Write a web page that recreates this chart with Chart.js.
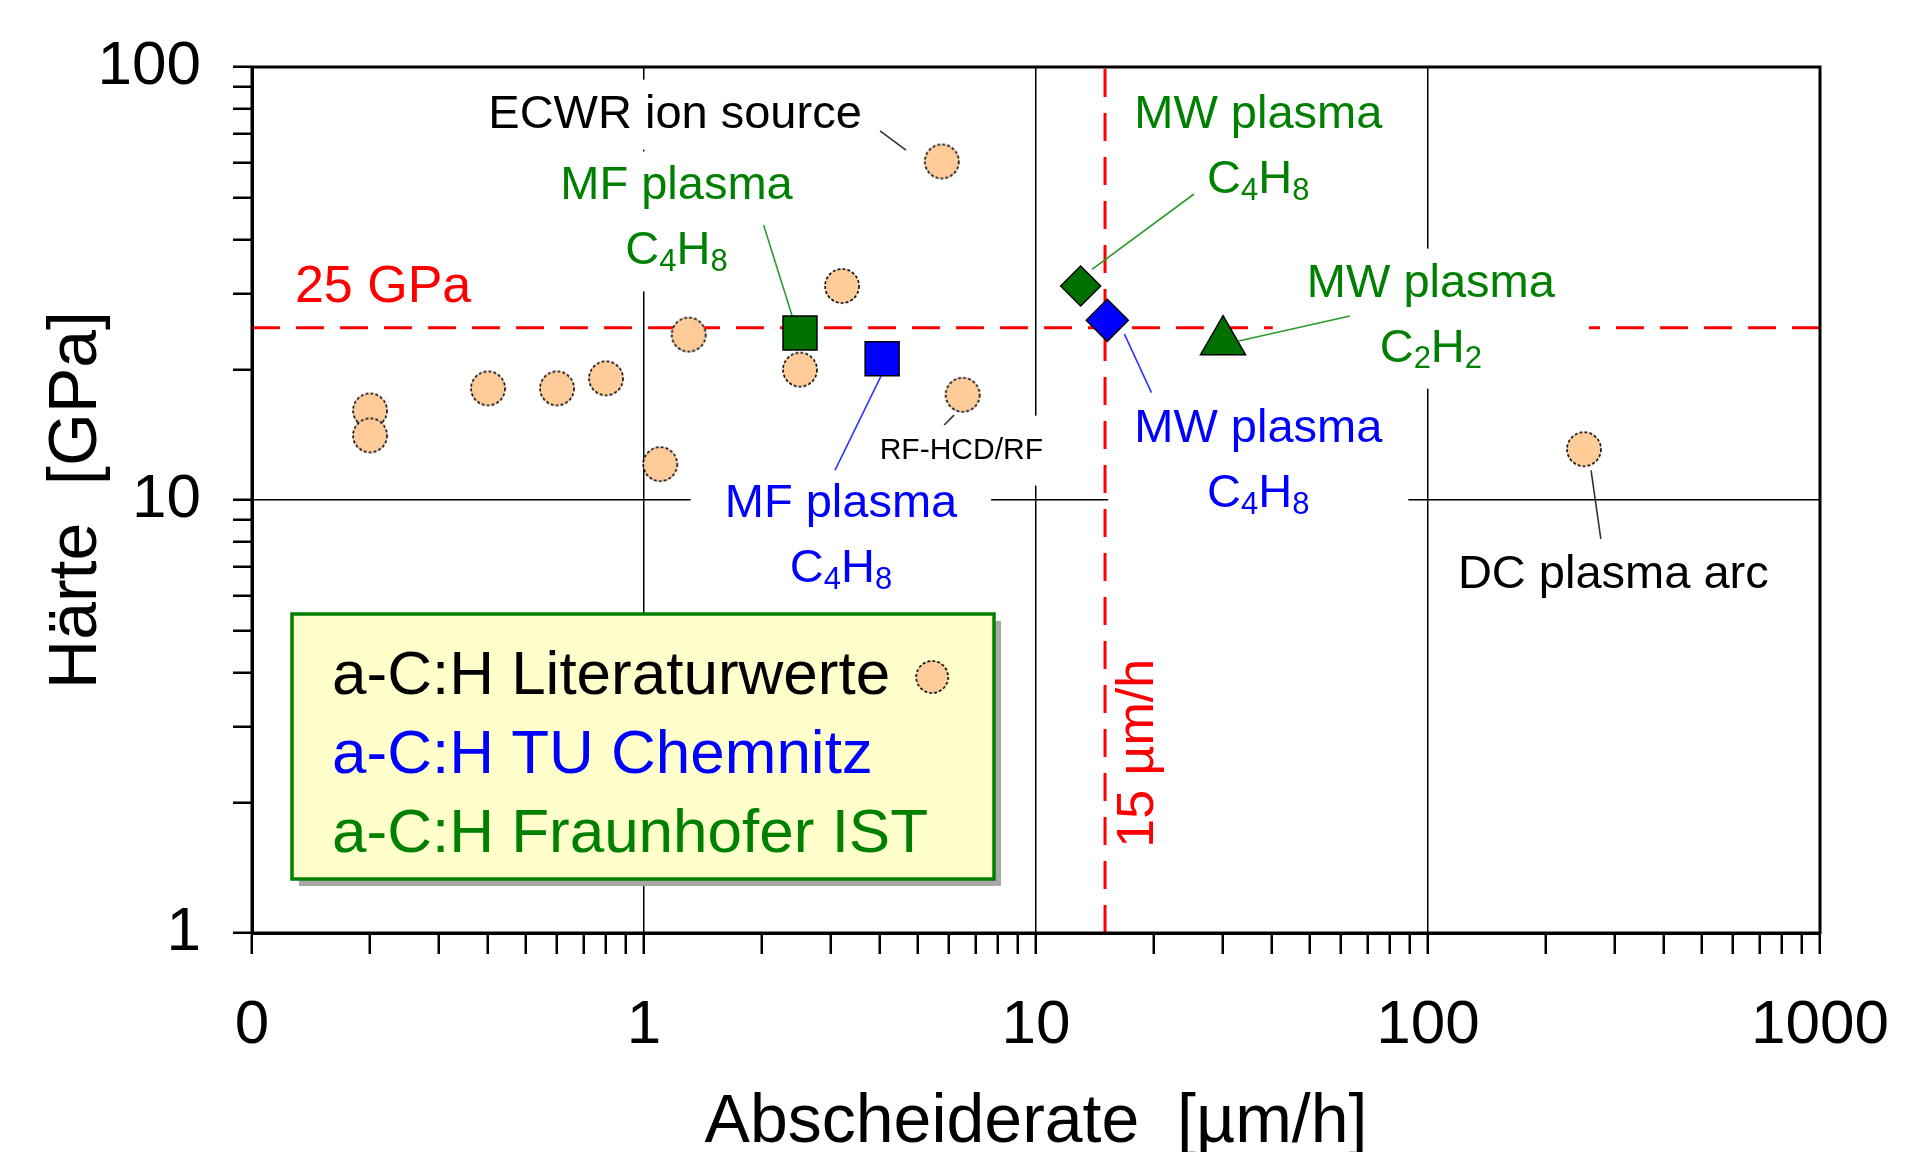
<!DOCTYPE html>
<html>
<head>
<meta charset="utf-8">
<script src="https://cdn.jsdelivr.net/npm/chart.js@4/dist/chart.umd.min.js"></script>
<style>
  html, body { margin: 0; padding: 0; background: #fff; }
  #wrap { width: 1908px; height: 1152px; }
</style>
</head>
<body>
<div id="wrap"><canvas id="hardnessChart"></canvas></div>
<script>
// Abscheiderate [µm/h] vs. Härte [GPa]
var litRate = [0.2, 0.2, 0.4, 0.6, 0.8, 1.1, 1.3, 2.5, 3.2, 5.75, 6.5, 250];
var litHard = [16.1, 14.1, 18.1, 18.1, 19.1, 12.1, 24.1, 20, 31.2, 60.5, 17.5, 13.1];
var tucRate = [4.05, 15.2];
var tucHard = [21.2, 26];
var istRate = [2.5, 13, 30];
var istHard = [24.3, 31.2, 23.2];
var limitRate = 15;
var limitHard = 25;
var xTickValues = [0.1, 1, 10, 100, 1000];
var xTickLabels = ['0', '1', '10', '100', '1000'];
var yTickValues = [1, 10, 100];
var yTickLabels = ['1', '10', '100'];

var FONT = 'Arial, "Liberation Sans", sans-serif';
var GREEN = '#008000';
var GREEN_FILL = '#007000';
var BLUE = '#0000ff';
var RED = '#ff0000';
var PEACH = '#ffcc99';

// callout texts, placed in data units (centre of the first line)
var notes = [
    { lines: ['ECWR ion source'], x: 1.2, y: 77.6, color: '#000', size: 47, lead: [[4.0, 71.2], [4.66, 64.3]], leadColor: '#333' },
    { lines: ['MF plasma', 'C_4H_8'], x: 1.21, y: 53.0, color: GREEN, size: 47, lead: [[2.02, 43.1], [2.4, 26.2]], leadColor: '#2a9a2a' },
    { lines: ['MW plasma', 'C_4H_8'], x: 36.9, y: 77.6, color: GREEN, size: 47, box: false, lead: [[25.3, 50.9], [13.9, 34.1]], leadColor: '#2a9a2a' },
    { lines: ['MW plasma', 'C_2H_2'], x: 101.7, y: 31.6, color: GREEN, size: 47, lead: [[63.2, 26.6], [32.9, 23.3]], leadColor: '#2a9a2a' },
    { lines: ['MW plasma', 'C_4H_8'], x: 36.9, y: 14.6, color: BLUE, size: 47, padX: 26, lead: [[16.8, 24.2], [19.7, 17.7]], leadColor: '#3333ff' },
    { lines: ['MF plasma', 'C_4H_8'], x: 3.18, y: 9.8, color: BLUE, size: 47, lead: [[4.02, 19.3], [3.07, 11.7]], leadColor: '#3333ff' },
    { lines: ['RF-HCD/RF'], x: 6.45, y: 13.0, color: '#000', size: 30, padX: 10, lead: [[6.18, 15.7], [5.83, 14.9]], leadColor: '#333' },
    { lines: ['DC plasma arc'], x: 297, y: 6.7, color: '#000', size: 47, padX: 14, lead: [[260.6, 11.7], [276, 8.13]], leadColor: '#333' }
];
var limitNotes = [
    { text: '25 GPa', x: 0.216, y: 30.9, rot: 0 },
    { text: '15 µm/h', x: 18.3, y: 2.6, rot: -Math.PI / 2 }
];

function circleImage(r) {
    var c = document.createElement('canvas');
    c.width = c.height = 2 * r + 4;
    var g = c.getContext('2d');
    g.beginPath();
    g.arc(r + 2, r + 2, r, 0, 2 * Math.PI);
    g.fillStyle = PEACH;
    g.fill();
    g.setLineDash([3, 2]);
    g.lineWidth = 1.6;
    g.strokeStyle = '#000';
    g.stroke();
    return c;
}
var dot = circleImage(17);
var legendDot = circleImage(16);

function parts(str) {
    var out = [];
    for (var i = 0; i < str.length; i++) {
        if (str[i] === '_') { out.push({ t: str[i + 1], sub: true }); i++; }
        else if (out.length && !out[out.length - 1].sub) out[out.length - 1].t += str[i];
        else out.push({ t: str[i], sub: false });
    }
    return out;
}
function subSize(size) { return Math.round(size * 0.66); }
function richWidth(ctx, str, size) {
    return parts(str).reduce(function (w, p) {
        ctx.font = (p.sub ? subSize(size) : size) + 'px ' + FONT;
        return w + ctx.measureText(p.t).width;
    }, 0);
}
function drawRich(ctx, str, cx, cy, size, color) {
    var x = cx - richWidth(ctx, str, size) / 2;
    ctx.fillStyle = color;
    ctx.textBaseline = 'middle';
    ctx.textAlign = 'left';
    parts(str).forEach(function (p) {
        ctx.font = (p.sub ? subSize(size) : size) + 'px ' + FONT;
        ctx.fillText(p.t, x, p.sub ? cy + size * 0.24 : cy);
        x += ctx.measureText(p.t).width;
    });
}

var LINE_GAP = 65;

var notesPlugin = {
    id: 'notes',
    beforeDatasetsDraw: function (chart) {
        var ctx = chart.ctx, xs = chart.scales.x, ys = chart.scales.y, a = chart.chartArea;
        ctx.save();
        // 25 GPa and 15 µm/h limits
        var ly = ys.getPixelForValue(limitHard), lx = xs.getPixelForValue(limitRate);
        ctx.strokeStyle = RED;
        ctx.lineWidth = 3;
        ctx.setLineDash([28, 16]);
        ctx.beginPath();
        ctx.moveTo(a.left, ly); ctx.lineTo(a.right, ly);
        ctx.moveTo(lx, a.bottom); ctx.lineTo(lx, a.top);
        ctx.stroke();
        ctx.setLineDash([]);

        // white boxes behind the callouts
        notes.forEach(function (n) {
            if (n.box === false) return;
            var cx = xs.getPixelForValue(n.x), cy = ys.getPixelForValue(n.y);
            var w = Math.max.apply(null, n.lines.map(function (s) { return richWidth(ctx, s, n.size); }));
            var pad = n.padX === undefined ? 34 : n.padX;
            var top = cy - 35, bottom = cy + (n.lines.length - 1) * LINE_GAP + (n.lines.length > 1 ? 40 : 35);
            ctx.fillStyle = '#fff';
            ctx.fillRect(cx - w / 2 - pad, top, w + 2 * pad, bottom - top);
        });

        // leader lines and texts
        notes.forEach(function (n) {
            ctx.strokeStyle = n.leadColor;
            ctx.lineWidth = 1.6;
            ctx.beginPath();
            ctx.moveTo(xs.getPixelForValue(n.lead[0][0]), ys.getPixelForValue(n.lead[0][1]));
            ctx.lineTo(xs.getPixelForValue(n.lead[1][0]), ys.getPixelForValue(n.lead[1][1]));
            ctx.stroke();
            var cx = xs.getPixelForValue(n.x), cy = ys.getPixelForValue(n.y);
            n.lines.forEach(function (s, i) {
                drawRich(ctx, s, cx, cy + i * LINE_GAP, n.size, n.color);
            });
        });

        limitNotes.forEach(function (n) {
            ctx.save();
            ctx.translate(xs.getPixelForValue(n.x), ys.getPixelForValue(n.y));
            ctx.rotate(n.rot);
            ctx.font = '52px ' + FONT;
            ctx.fillStyle = RED;
            ctx.textAlign = 'center';
            ctx.textBaseline = 'middle';
            ctx.fillText(n.text, 0, 0);
            ctx.restore();
        });
        ctx.restore();
    }
};

var legendPlugin = {
    id: 'legendBox',
    afterDatasetsDraw: function (chart) {
        var ctx = chart.ctx, a = chart.chartArea;
        var w = 702, h = 265, left = a.left + 40, top = a.bottom - 54 - h;
        ctx.save();
        ctx.fillStyle = '#a8a8a8';
        ctx.fillRect(left + 7, top + 7, w, h);
        ctx.fillStyle = '#ffffcc';
        ctx.fillRect(left, top, w, h);
        ctx.lineWidth = 3.5;
        ctx.strokeStyle = GREEN;
        ctx.strokeRect(left, top, w, h);
        ctx.font = '62px ' + FONT;
        ctx.textBaseline = 'middle';
        ctx.textAlign = 'left';
        chart.data.datasets.forEach(function (ds, i) {
            var y = top + 63 + i * 79;
            ctx.fillStyle = ds.legendColor;
            ctx.fillText(ds.label, left + 40, y);
            if (ds.pointStyle === dot) {
                var tw = ctx.measureText(ds.label).width;
                ctx.drawImage(legendDot, left + 40 + tw + 24, y - legendDot.height / 2);
            }
        });
        ctx.restore();
    }
};

var framePlugin = {
    id: 'frame',
    afterDraw: function (chart) {
        var ctx = chart.ctx, a = chart.chartArea;
        ctx.save();
        ctx.lineWidth = 3;
        ctx.strokeStyle = '#000';
        ctx.strokeRect(a.left, a.top, a.right - a.left, a.bottom - a.top);
        ctx.restore();
    }
};

function points(xs, ys) {
    return xs.map(function (x, i) { return { x: x, y: ys[i] }; });
}
function minorTicks(decades) {
    var t = [];
    for (var i = 0; i < decades.length - 1; i++) {
        for (var k = 1; k <= 9; k++) t.push({ value: decades[i] * k });
    }
    t.push({ value: decades[decades.length - 1] });
    return t;
}
function tickLabel(values, labels) {
    return function (value, index, ticks) {
        var i = values.indexOf(ticks[index].value);
        return i >= 0 ? labels[i] : '';
    };
}
function gridColor(values) {
    var inner = values.slice(1, -1);
    return function (c) {
        return c.tick && inner.indexOf(c.tick.value) >= 0 ? '#000' : 'rgba(0,0,0,0)';
    };
}

document.addEventListener('DOMContentLoaded', function () {
    var ctx = document.getElementById('hardnessChart').getContext('2d');
    new Chart(ctx, {
        type: 'scatter',
        data: {
            datasets: [{
                label: 'a-C:H Literaturwerte',
                data: points(litRate, litHard),
                pointStyle: dot,
                pointRadius: 17,
                legendColor: '#000',
                order: 3
            }, {
                label: 'a-C:H TU Chemnitz',
                data: points(tucRate, tucHard),
                pointStyle: ['rect', 'rectRot'],
                pointRadius: [24, 21],
                backgroundColor: BLUE,
                borderColor: '#000',
                borderWidth: 1.5,
                legendColor: BLUE,
                order: 2
            }, {
                label: 'a-C:H Fraunhofer IST',
                data: points(istRate, istHard),
                pointStyle: ['rect', 'rectRot', 'triangle'],
                pointRadius: [24, 20, 26],
                backgroundColor: GREEN_FILL,
                borderColor: '#000',
                borderWidth: 1.5,
                legendColor: GREEN,
                order: 1
            }]
        },
        options: {
            responsive: true,
            maintainAspectRatio: false,
            animation: false,
            layout: { padding: { top: 67, right: 88, left: 0, bottom: 0 } },
            plugins: { legend: { display: false }, tooltip: { enabled: false } },
            scales: {
                x: {
                    type: 'logarithmic',
                    min: 0.1,
                    max: 1000,
                    afterBuildTicks: function (s) { s.ticks = minorTicks(xTickValues); },
                    afterFit: function (s) { s.height = 219; s.paddingLeft = 0; s.paddingRight = 0; },
                    grid: { color: gridColor(xTickValues), lineWidth: 1.5, tickColor: '#000', tickWidth: 2.5, tickLength: 21 },
                    border: { color: '#000', width: 3 },
                    ticks: {
                        autoSkip: false, maxRotation: 0, padding: 35, color: '#000',
                        font: { family: FONT, size: 62 },
                        callback: tickLabel(xTickValues, xTickLabels)
                    },
                    title: {
                        display: true, text: 'Abscheiderate  [µm/h]', color: '#000',
                        font: { family: FONT, size: 68, lineHeight: 0.76 },
                        padding: { top: 0, bottom: 3 }
                    }
                },
                y: {
                    type: 'logarithmic',
                    min: 1,
                    max: 100,
                    afterBuildTicks: function (s) { s.ticks = minorTicks(yTickValues); },
                    afterFit: function (s) { s.width = 252; s.paddingTop = 0; s.paddingBottom = 0; },
                    grid: { color: gridColor(yTickValues), lineWidth: 1.5, tickColor: '#000', tickWidth: 2.5, tickLength: 19 },
                    border: { color: '#000', width: 3 },
                    ticks: {
                        autoSkip: false, padding: 32, color: '#000',
                        font: { family: FONT, size: 62 },
                        callback: tickLabel(yTickValues, yTickLabels)
                    },
                    title: {
                        display: true, text: 'Härte  [GPa]', color: '#000',
                        font: { family: FONT, size: 68, lineHeight: 0.76 },
                        padding: { top: 51, bottom: 0 }
                    }
                }
            }
        },
        plugins: [notesPlugin, legendPlugin, framePlugin]
    });
});
</script>
</body>
</html>
